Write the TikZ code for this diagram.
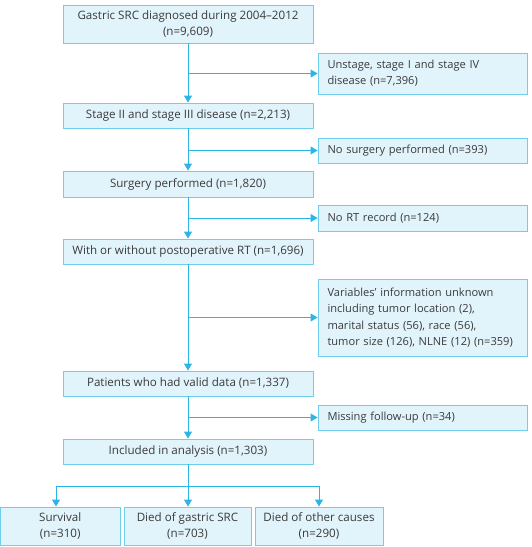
\documentclass[tikz,border=0pt]{standalone}
\usepackage{fontspec}
\setmainfont{Open Sans}
\usetikzlibrary{arrows.meta}
\definecolor{boxfill}{HTML}{E2F4FB}
\definecolor{boxline}{HTML}{6FCDED}
\definecolor{arrowc}{HTML}{2BB5E6}
\definecolor{txt}{HTML}{3A3A3A}
\tikzset{
  mainbox/.style={draw=boxline, fill=boxfill, line width=0.9pt, minimum width=250pt, text=txt, font=\fontsize{11.6}{16}\selectfont, align=center, inner sep=0pt},
  sidebox/.style={draw=boxline, fill=boxfill, line width=0.9pt, minimum width=209pt, text width=190pt, inner xsep=9.5pt, inner ysep=0pt, text=txt, font=\fontsize{11.1}{16.3}\selectfont, align=left},
  botbox/.style={draw=boxline, fill=boxfill, line width=0.9pt, minimum height=38pt, text=txt, font=\fontsize{11.6}{16}\selectfont, align=center, inner sep=0pt},
  arr/.style={draw=arrowc, line width=0.9pt, -{Triangle[width=8pt,length=7pt]}},
  ln/.style={draw=arrowc, line width=0.9pt}
}
\begin{document}
\begin{tikzpicture}[x=1pt,y=-1pt]
\useasboundingbox (0,0) rectangle (531,547);
% main boxes
\node[mainbox, minimum height=38pt] (b1) at (188,24) {Gastric SRC diagnosed during 2004–2012\\(n=9,609)};
\node[mainbox, minimum height=25pt] (b2) at (188,115.5) {Stage II and stage III disease (n=2,213)};
\node[mainbox, minimum height=26pt] (b3) at (188,184) {Surgery performed (n=1,820)};
\node[mainbox, minimum height=25pt] (b4) at (188,251.5) {With or without postoperative RT (n=1,696)};
\node[mainbox, minimum height=25pt] (b5) at (188,383.5) {Patients who had valid data (n=1,337)};
\node[mainbox, minimum height=25pt] (b6) at (188,451.5) {Included in analysis (n=1,303)};
% side boxes
\node[sidebox, minimum height=41pt] (s1) at (422.5,73.5) {Unstage, stage I and stage IV\\disease (n=7,396)};
\node[sidebox, minimum height=25pt] (s2) at (422.5,150.5) {No surgery performed (n=393)};
\node[sidebox, minimum height=26pt] (s3) at (422.5,218) {No RT record (n=124)};
\node[sidebox, minimum height=77pt] (s4) at (422.5,317.5) {Variables' information unknown\\including tumor location (2),\\marital status (56), race (56),\\tumor size (126), NLNE (12) (n=359)};
\node[sidebox, minimum height=25pt] (s5) at (422.5,417.5) {Missing follow-up (n=34)};
% bottom boxes
\node[botbox, minimum width=119.5pt] (t1) at (60.25,526) {Survival\\(n=310)};
\node[botbox, minimum width=127pt] (t2) at (187.5,526) {Died of gastric SRC\\(n=703)};
\node[botbox, minimum width=128pt] (t3) at (319,526) {Died of other causes\\(n=290)};
% spine
\draw[arr] (b1) -- (b2);
\draw[arr] (b2) -- (b3);
\draw[arr] (b3) -- (b4);
\draw[arr] (b4) -- (b5);
\draw[arr] (b5) -- (b6);
% branches
\coordinate (j1) at (188,73.5);
\coordinate (j2) at (188,150.5);
\coordinate (j3) at (188,218);
\coordinate (j4) at (188,317.5);
\coordinate (j5) at (188,417.5);
\draw[arr] (j1) -- (s1.west);
\draw[arr] (j2) -- (s2.west);
\draw[arr] (j3) -- (s3.west);
\draw[arr] (j4) -- (s4.west);
\draw[arr] (j5) -- (s5.west);
% bottom split
\coordinate (h) at (188,486);
\coordinate (hl) at (56,486);
\coordinate (hr) at (319,486);
\draw[ln] (b6.south) -- (h);
\draw[ln] (hl) -- (hr);
\draw[arr] (hl) -- (hl |- t1.north);
\draw[arr] (h) -- (t2.north -| h);
\draw[arr] (hr) -- (t3.north);
\end{tikzpicture}
\end{document}
